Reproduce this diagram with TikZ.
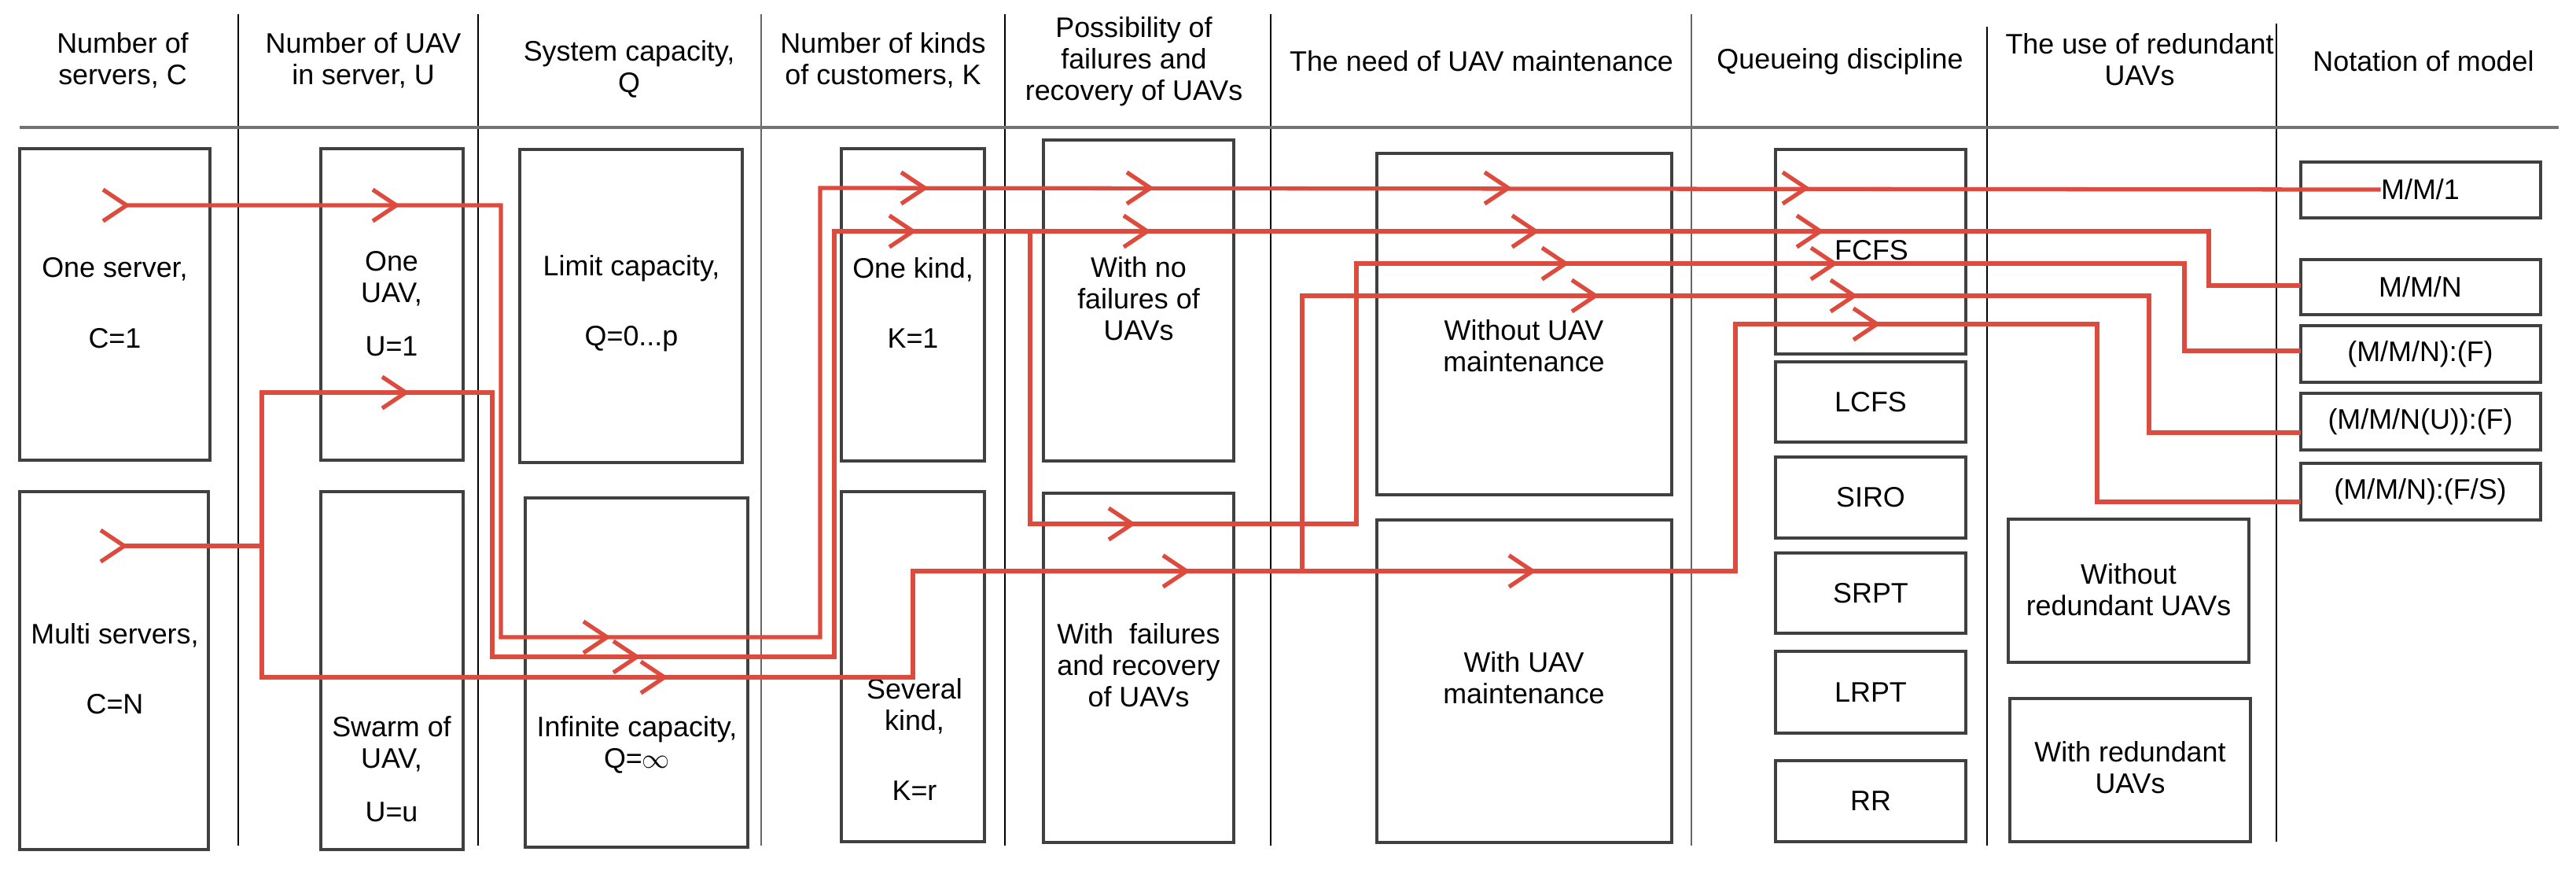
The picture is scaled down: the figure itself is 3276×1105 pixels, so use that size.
\documentclass[tikz,border=0pt]{standalone}
\usepackage{fontspec}
\setmainfont{Liberation Sans}
\begin{document}
\begin{tikzpicture}[x=0.01cm,y=-0.01cm,
  box/.style={draw=black!75,line width=0.9pt},
  txt/.style={align=center,font=\fontsize{10.2}{11.4}\selectfont,inner sep=0pt},
  col/.style={draw=black,line width=0.6pt}]
\definecolor{rd}{RGB}{221,75,62}
\useasboundingbox (0,0) rectangle (3276,1105);
% columns
\draw[col] (303,18) -- (303,1075);
\draw[col] (608,18) -- (608,1075);
\draw[col,black!60] (968,18) -- (968,1075);
\draw[col] (1278,18) -- (1278,1075);
\draw[col] (1616,18) -- (1616,1075);
\draw[col,black!60] (2151,18) -- (2151,1075);
\draw[col] (2527,34) -- (2527,1075);
\draw[col] (2895,30) -- (2895,1070);
\draw[draw=black!55,line width=1.1pt] (25,162) -- (3254,162);
% headers
\node[txt] (h1) at (156,77) {Number of\\servers, C};
\node[txt] (h2) at (462,77) {Number of UAV\\in server, U};
\node[txt] (h3) at (800,88) {System capacity,\\Q};
\node[txt] (h4) at (1123,77) {Number of kinds\\of customers, K};
\node[txt] (h5) at (1442,78) {Possibility of\\failures and\\recovery of UAVs};
\node[txt] (h6) at (1884,78) {The need of UAV maintenance};
\node[txt] (h7) at (2340,78) {Queueing discipline};
\node[txt] (h8) at (2721,76) {The use of redundant\\UAVs};
\node[txt] (h9) at (3082,78) {Notation of model};
% boxes
\draw[box] (25,189) rectangle (267,585);
\node[txt] (b1) at (146,385) {One server,\\[14pt]C=1};
\draw[box] (25,625) rectangle (265,1080);
\node[txt] (b2) at (146,850) {Multi servers,\\[14pt]C=N};
\draw[box] (408,189) rectangle (589,585);
\node[txt] (b3) at (498,386) {One\\UAV,\\[8pt]U=1};
\draw[box] (408,625) rectangle (589,1080);
\node[txt] (b4) at (498,978) {Swarm of\\UAV,\\[8pt]U=u};
\draw[box] (661,190) rectangle (944,588);
\node[txt] (b5) at (803,386) {Limit capacity,\\[14pt]Q=0...p};
\draw[box] (668,633) rectangle (951,1077);
\node[txt] (b6) at (810,947) {Infinite capacity,\\Q=$\infty$};
\draw[box] (1070,189) rectangle (1252,586);
\node[txt] (b7) at (1161,385) {One kind,\\[14pt]K=1};
\draw[box] (1070,625) rectangle (1252,1070);
\node[txt] (b8) at (1163,940) {Several\\kind,\\[14pt]K=r};
\draw[box] (1327,178) rectangle (1569,586);
\node[txt] (b9) at (1448,380) {With no\\failures of\\UAVs};
\draw[box] (1327,627) rectangle (1569,1071);
\node[txt] (b10) at (1448,846) {With~~failures\\and recovery\\of UAVs};
\draw[box] (1751,195) rectangle (2126,629);
\node[txt] (b11) at (1938,440) {Without UAV\\maintenance};
\draw[box] (1751,661) rectangle (2126,1071);
\node[txt] (b12) at (1938,862) {With UAV\\maintenance};
\draw[box] (2258,190) rectangle (2500,450);
\node[txt] (q1) at (2380,318) {FCFS};
\draw[box] (2258,460) rectangle (2500,562); \node[txt] (q2) at (2379,511) {LCFS};
\draw[box] (2258,581) rectangle (2500,684); \node[txt] (q3) at (2379,632) {SIRO};
\draw[box] (2258,703) rectangle (2500,805); \node[txt] (q4) at (2379,754) {SRPT};
\draw[box] (2258,828) rectangle (2500,932); \node[txt] (q5) at (2379,880) {LRPT};
\draw[box] (2258,967) rectangle (2500,1070); \node[txt] (q6) at (2379,1018) {RR};
\draw[box] (2554,660) rectangle (2860,842);
\node[txt] (r1) at (2707,750) {Without\\redundant UAVs};
\draw[box] (2556,888) rectangle (2862,1070);
\node[txt] (r2) at (2709,976) {With redundant\\UAVs};
\draw[box] (2926,206) rectangle (3231,277); \node[txt] (n1) at (3078,241) {M/M/1};
\draw[box] (2926,330) rectangle (3231,400); \node[txt] (n2) at (3078,365) {M/M/N};
\draw[box] (2926,414) rectangle (3231,486); \node[txt] (n3) at (3078,450) {(M/M/N):(F)};
\draw[box] (2926,500) rectangle (3231,572); \node[txt] (n4) at (3078,536) {(M/M/N(U)):(F)};
\draw[box] (2926,589) rectangle (3231,661); \node[txt] (n5) at (3078,625) {(M/M/N):(F/S)};
% red paths
\begin{scope}[every path/.style={draw=rd,line width=1.5pt}]
\coordinate (s1) at (161,261);
\coordinate (s2) at (158,694);
\draw (s1) -- (637,261) -- (637,810) -- (1043,810) -- (1043,239) -- (n1.west);
\draw (s2) -- (333,694) -- (333,499) -- (626,499) -- (626,835) -- (1061,835) -- (1061,294) -- (2809,294) -- (2809,363) -- (2926,363);
\draw (1310,294) -- (1310,666) -- (1725,666) -- (1725,335) -- (2778,335) -- (2778,446) -- (2926,446);
\draw (333,694) -- (333,861) -- (1161,861) -- (1161,726) -- (2207,726) -- (2207,412) -- (2667,412) -- (2667,638) -- (2926,638);
\draw (1656,726) -- (1656,376) -- (2733,376) -- (2733,550) -- (2926,550);
\foreach \x/\y in {161/261,504/261,772/810,1176/239,1463/239,1918/239,2297/239,
  158/694,516/499,810/835,1161/294,1459/294,1953/294,2315/294,
  1440/666,1991/335,2333/335,845/861,1509/726,1949/726,2387/412,2029/376,2358/376}
  \draw (\x-30,\y-20) -- (\x,\y) -- (\x-30,\y+20);
\end{scope}
\end{tikzpicture}
\end{document}
